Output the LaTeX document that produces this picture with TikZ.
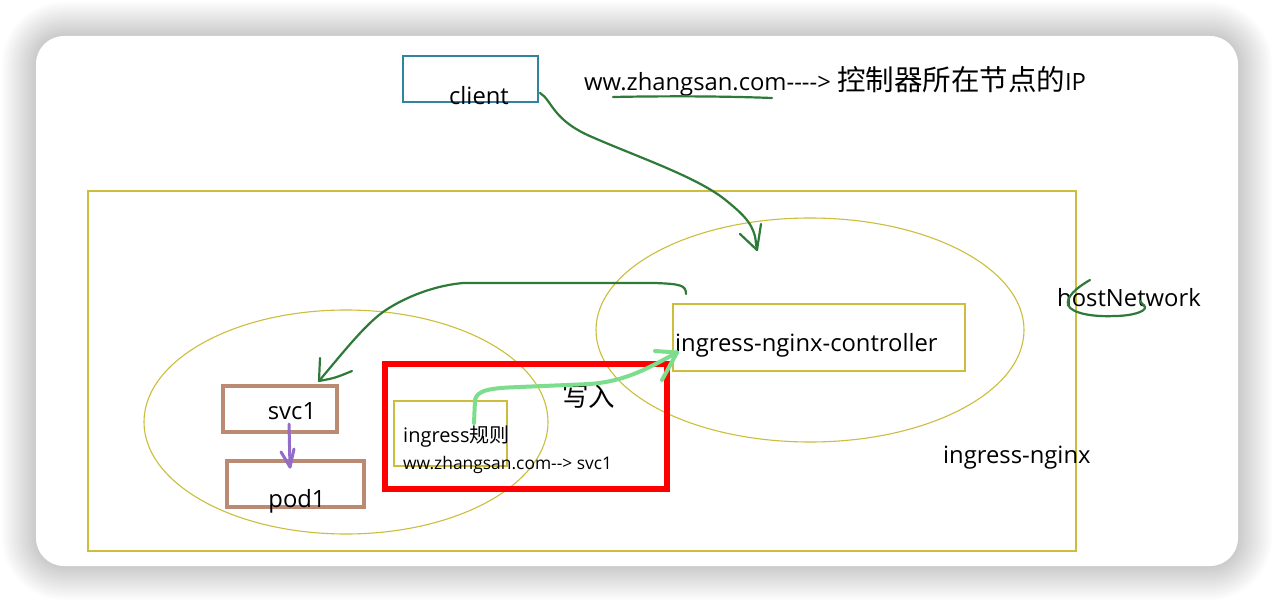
\documentclass[tikz,border=0pt]{standalone}
\usepackage{fontspec}
\setmainfont{Open Sans}
\newfontfamily\cjk{Noto Sans CJK SC}
\usepackage{tikz}
\usetikzlibrary{positioning}

\definecolor{lineyellow}{RGB}{204,190,60}
\definecolor{inkgreen}{RGB}{46,122,56}
\definecolor{litegreen}{RGB}{124,222,140}
\definecolor{boxbrown}{RGB}{186,138,114}
\definecolor{inkpurple}{RGB}{146,108,200}
\definecolor{clientblue}{RGB}{49,132,160}
\newcommand{\hy}{-\kern0pt}

\begin{document}
\begin{tikzpicture}[x=1pt,y=-1pt,
    box/.style={draw, inner sep=0pt, outer sep=0pt, anchor=north west},
    lbl/.style={inner sep=0pt, anchor=base west, font=\fontsize{23.8}{28}\selectfont},
    ink/.style={inkgreen, line width=2.2pt, line cap=round, line join=round}]

       \useasboundingbox (0,0) rectangle (1274,602);
       \fill[white] (0,0) rectangle (1274,602);
       % card and its shadow
       \foreach \s [evaluate=\s as \r using 28+\s] in {2,4,...,34}
         \fill[black, opacity=0.011, rounded corners=\r pt] (36-\s,36-\s) rectangle (1238+\s,566+\s);
       \fill[white, rounded corners=28pt] (36,36) rectangle (1238,566);

       % ingress-nginx area and the two ellipses
       \node[box, lineyellow, line width=1.1pt, minimum width=988, minimum height=360] (nginxarea) at (88,191) {};
       \draw[lineyellow, line width=1.1pt] (810,330) ellipse [x radius=214, y radius=112];
       \draw[lineyellow, line width=1.1pt] (346,422) ellipse [x radius=202, y radius=112];

       % boxes
       \node[box, clientblue, line width=2pt, minimum width=135, minimum height=46] (client) at (403,56) {};
       \node[box, lineyellow, line width=1.1pt, minimum width=292, minimum height=67] (ctl) at (673,304) {};
       \node[box, boxbrown, line width=3.5pt, minimum width=114, minimum height=46] (svc) at (223,386) {};
       \node[box, boxbrown, line width=3.5pt, minimum width=137, minimum height=46] (pod) at (227,461) {};
       \node[box, red, line width=6.5pt, minimum width=282, minimum height=125] (rulezone) at (385,364) {};
       \node[box, lineyellow, line width=1.1pt, minimum width=113, minimum height=65] (rule) at (394,401) {};

       % texts
       \node[lbl, anchor=base] (clientlbl) at (479,104) {client};
       \node[lbl] (dnslbl) at (584,91) {ww.zhangsan.com\hy\hy\hy\hy> {\cjk\fontsize{28.5}{30}\selectfont 控制器所在节点的}IP};
       \node[lbl] (ctllbl) at (675,351) {ingress-nginx-controller};
       \node[lbl] (hostlbl) at (1057,306) {hostNetwork};
       \node[lbl] (nginxlbl) at (943,463) {ingress-nginx};
       \node[lbl, anchor=base] (svclbl) at (292,419) {svc1};
       \node[lbl, anchor=base] (podlbl) at (297,507) {pod1};
       \node[lbl, font=\fontsize{20}{24}\selectfont] (rulelbl) at (403,442) {ingress{\cjk 规则}};
       \node[lbl, font=\fontsize{17.4}{20}\selectfont] (rulemap) at (403,469) {ww.zhangsan.com\hy\hy> svc1};
       \node[inner sep=0pt, font=\cjk\fontsize{26.5}{30}\selectfont] (writelbl) at (588.5,397) {写入};

       % hand drawn marks
       \draw[ink] (613,97) .. controls (660,96) and (720,96) .. (772,98);
       \draw[ink] (1090,280) .. controls (1076,288) and (1066,297) .. (1068,305) .. controls (1072,314) and (1095,317) .. (1115,316) .. controls (1130,316) and (1146,312) .. (1145,307) -- (1140,301);

       \coordinate (ctlin) at (757,250);
       \draw[ink] ([shift={(2,14)}]client.east) .. controls (552,100) and (552,120) .. (592,137) .. controls (640,158) and (700,178) .. (728,202) .. controls (745,216) and (755,226) .. (756,244) -- (ctlin);
       \draw[ink] (740,234) -- (ctlin) -- (761,224);

       \coordinate (svcin) at ([shift={(39,-5)}]svc.north);
       \draw[ink] ([shift={(13,-10)}]ctl.north west) .. controls (686,285) and (680,284) .. (655,283) -- (463,283) .. controls (430,286) and (400,300) .. (383,312) .. controls (365,325) and (345,350) .. (svcin);
       \draw[ink] (320,358) -- (svcin) .. controls (335,378) .. (352,371);

       \coordinate (podin) at ([shift={(-5.5,6)}]pod.north);
       \draw[inkpurple, line width=3pt, line cap=round, line join=round] ([shift={(9,-8)}]svc.south) -- (podin);
       \draw[inkpurple, line width=3pt, line cap=round, line join=round] (281,452) -- (podin) -- (294,449);

       \coordinate (ctlwrite) at ([shift={(4,15)}]ctl.west);
       \draw[litegreen, line width=4pt, line cap=round, line join=round] ([shift={(80,22)}]rule.north west) -- (475,400) .. controls (477,390) and (490,388) .. (520,387) -- (590,384) .. controls (625,381) and (645,370) .. (ctlwrite);
       \draw[litegreen, line width=4pt, line cap=round, line join=round] (655,351) -- (ctlwrite) -- (662,380);
      \end{tikzpicture}
\end{document}
